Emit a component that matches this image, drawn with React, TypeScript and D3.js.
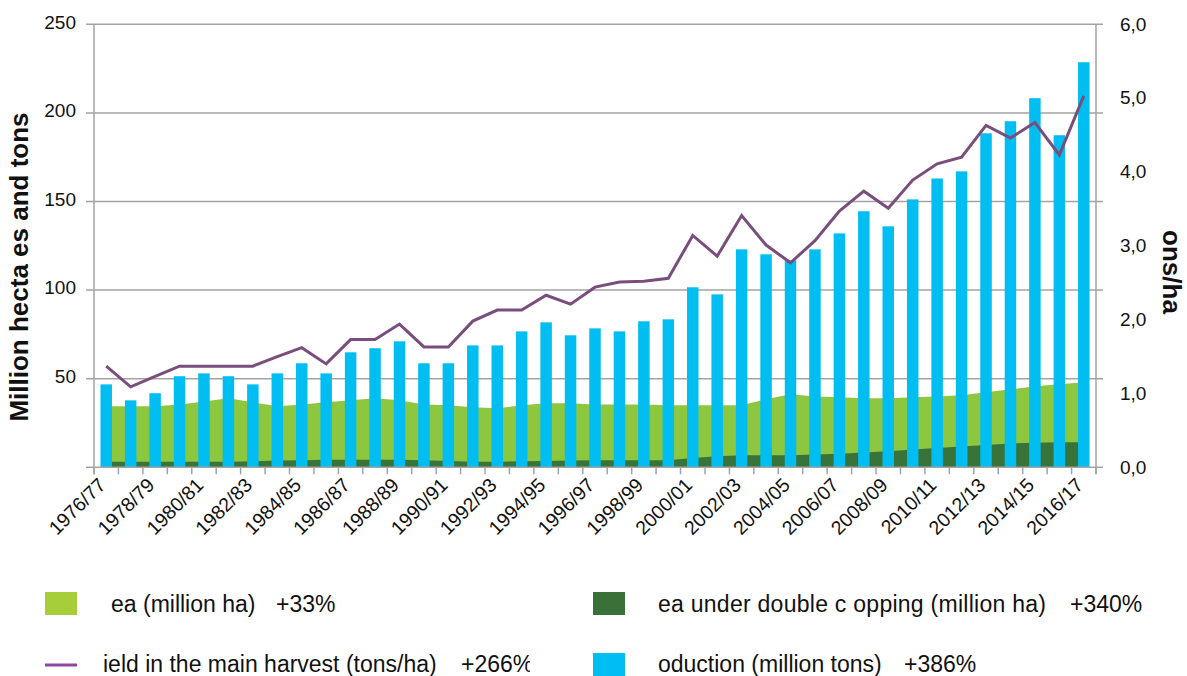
import React, { useEffect, useRef } from 'react';
import * as d3 from 'd3';

// crop years on the x axis
const seasons = [
  '1976/77', '1977/78', '1978/79', '1979/80', '1980/81', '1981/82', '1982/83', '1983/84',
  '1984/85', '1985/86', '1986/87', '1987/88', '1988/89', '1989/90', '1990/91', '1991/92',
  '1992/93', '1993/94', '1994/95', '1995/96', '1996/97', '1997/98', '1998/99', '1999/00',
  '2000/01', '2001/02', '2002/03', '2003/04', '2004/05', '2005/06', '2006/07', '2007/08',
  '2008/09', '2009/10', '2010/11', '2011/12', '2012/13', '2013/14', '2014/15', '2015/16',
  '2016/17',
];

// million ha
const area = [
  34.4, 34.4, 34.4, 35.5, 37.2, 38.9, 36.7, 34.4, 35.5, 36.7, 37.8, 38.9, 37.8, 35.5,
  35.0, 33.9, 33.3, 35.0, 36.1, 36.1, 35.5, 35.5, 35.5, 35.0, 35.0, 35.0, 35.0, 38.4,
  41.2, 40.0, 39.5, 38.9, 38.9, 39.5, 40.0, 40.6, 42.3, 44.0, 45.7, 46.8, 48.0,
];

// million ha under double cropping
const doubleCrop = [
  3.2, 3.2, 3.2, 3.2, 3.2, 3.2, 3.4, 3.8, 4.0, 4.2, 4.2, 4.2, 4.2, 4.0, 3.6, 3.2,
  3.2, 3.4, 3.6, 3.8, 4.0, 4.0, 4.0, 4.0, 5.3, 6.2, 6.8, 6.8, 6.8, 7.2, 7.7, 8.3,
  9.0, 10.0, 10.9, 11.7, 12.6, 13.4, 13.9, 14.1, 14.1,
];

// million tons
const production = [
  46.8, 37.8, 41.8, 51.4, 53.0, 51.4, 46.8, 53.0, 58.7, 53.0, 64.9, 67.2, 71.1, 58.7,
  58.7, 68.8, 68.8, 76.7, 81.8, 74.5, 78.4, 76.7, 82.4, 83.5, 101.6, 97.6, 123.0, 120.2,
  116.8, 123.0, 132.0, 144.5, 136.0, 151.2, 163.0, 167.0, 188.5, 195.3, 208.3, 187.4, 228.6,
];

// tons/ha, right axis
const yieldMain = [
  1.37, 1.09, 1.23, 1.37, 1.37, 1.37, 1.37, 1.50, 1.62, 1.40, 1.73, 1.73, 1.94, 1.63,
  1.63, 1.98, 2.13, 2.13, 2.33, 2.21, 2.44, 2.51, 2.52, 2.56, 3.14, 2.86, 3.41, 3.01,
  2.77, 3.07, 3.47, 3.74, 3.51, 3.89, 4.11, 4.20, 4.63, 4.46, 4.67, 4.23, 5.03,
];

const leftTicks = [50, 100, 150, 200, 250];
const rightTicks = [0, 1, 2, 3, 4, 5, 6];

const FONT = '"Liberation Sans", Arial, Helvetica, sans-serif';

export default function App() {
  const svgRef = useRef<SVGSVGElement>(null);

  useEffect(() => {
    const w = 1187;
    const h = 676;
    const svg = d3.select(svgRef.current).attr('width', w).attr('height', h);
    svg.selectAll('*').remove();

    const left = 94, right = 1096, top = 24.3, bottom = 467.3;

    const x = d3.scaleBand<string>()
      .domain(seasons)
      .range([left, right])
      .paddingInner(0.53)
      .paddingOuter(0.265);
    const step = x.step();
    const bw = x.bandwidth();
    const cx = (s: string) => (x(s) as number) + bw / 2;

    const yL = d3.scaleLinear().domain([0, 250]).range([bottom, top]);
    const yR = d3.scaleLinear().domain([0, 6]).range([bottom, top]);

    // areas (behind everything)
    const areaGen = d3.area<number>()
      .x((d, i) => cx(seasons[i]))
      .y0(yL(0))
      .y1(d => yL(d));
    svg.append('path').datum(area).attr('d', areaGen).attr('fill', '#8DC63F');
    svg.append('path').datum(doubleCrop).attr('d', areaGen).attr('fill', '#38733A');

    // gridlines
    const grid = svg.append('g');
    grid.selectAll('line')
      .data(leftTicks)
      .join('line')
      .attr('x1', left - 8)
      .attr('x2', right + 7)
      .attr('y1', d => yL(d))
      .attr('y2', d => yL(d))
      .attr('stroke', '#a3a3a3')
      .attr('stroke-width', 1.5);

    // production bars
    svg.append('g')
      .selectAll('rect')
      .data(production)
      .join('rect')
      .attr('x', (d, i) => x(seasons[i]) as number)
      .attr('width', bw)
      .attr('y', d => yL(d))
      .attr('height', d => yL(0) - yL(d))
      .attr('fill', '#00BEF2');

    // yield line
    const lineGen = d3.line<number>()
      .x((d, i) => cx(seasons[i]))
      .y(d => yR(d));
    svg.append('path')
      .datum(yieldMain)
      .attr('d', lineGen)
      .attr('fill', 'none')
      .attr('stroke', '#7A4E7C')
      .attr('stroke-width', 3)
      .attr('stroke-linejoin', 'miter');

    // axis lines
    const axisCol = '#a3a3a3';
    svg.append('line').attr('x1', left).attr('x2', left).attr('y1', top).attr('y2', bottom + 7)
      .attr('stroke', axisCol).attr('stroke-width', 1.5);
    svg.append('line').attr('x1', right).attr('x2', right).attr('y1', top).attr('y2', bottom + 7)
      .attr('stroke', axisCol).attr('stroke-width', 1.5);
    svg.append('line').attr('x1', left - 8).attr('x2', right + 7).attr('y1', bottom).attr('y2', bottom)
      .attr('stroke', axisCol).attr('stroke-width', 1.5);

    // category boundary ticks
    const bounds = seasons.map(s => (x(s) as number) - (step - bw) / 2).concat([right]);
    svg.append('g')
      .selectAll('line')
      .data(bounds)
      .join('line')
      .attr('x1', d => d)
      .attr('x2', d => d)
      .attr('y1', bottom)
      .attr('y2', bottom + 7)
      .attr('stroke', axisCol)
      .attr('stroke-width', 1.5);

    // left axis labels
    const gl = svg.append('g')
      .attr('transform', `translate(${left},0)`)
      .call(d3.axisLeft(yL).tickValues(leftTicks).tickSize(0).tickPadding(18));
    gl.select('.domain').remove();
    gl.selectAll('text').attr('font-family', FONT).attr('font-size', 19).attr('fill', '#111')
      .attr('dy', '0.2em');

    // right axis labels
    const gr = svg.append('g')
      .attr('transform', `translate(${right},0)`)
      .call(d3.axisRight(yR).tickValues(rightTicks).tickSize(0).tickPadding(24)
        .tickFormat(d => (d as number).toFixed(1).replace('.', ',')));
    gr.select('.domain').remove();
    gr.selectAll('text').attr('font-family', FONT).attr('font-size', 19).attr('fill', '#111')
      .attr('dy', '0.3em');

    // bottom axis labels, every other season
    const gb = svg.append('g')
      .attr('transform', `translate(0,${bottom})`)
      .call(d3.axisBottom(x).tickValues(seasons.filter((s, i) => i % 2 === 0)).tickSize(0));
    gb.select('.domain').remove();
    gb.selectAll('text')
      .attr('font-family', FONT)
      .attr('font-size', 19.5)
      .attr('fill', '#111')
      .attr('x', -13)
      .attr('y', 7)
      .attr('dy', '0.35em')
      .attr('transform', 'rotate(-45)')
      .style('text-anchor', 'end');

    // axis titles
    svg.append('text')
      .attr('transform', 'translate(28,267) rotate(-90)')
      .attr('text-anchor', 'middle')
      .attr('font-family', FONT)
      .attr('font-weight', 'bold')
      .attr('font-size', 26)
      .attr('fill', '#111')
      .text('Million hecta es and tons');
    svg.append('text')
      .attr('transform', 'translate(1163,272) rotate(90)')
      .attr('text-anchor', 'middle')
      .attr('font-family', FONT)
      .attr('font-weight', 'bold')
      .attr('font-size', 26)
      .attr('fill', '#111')
      .text('ons/ha');

    // legend
    const lg = svg.append('g').attr('font-family', FONT).attr('font-size', 23).attr('fill', '#111');
    lg.append('rect').attr('x', 45).attr('y', 592).attr('width', 32).attr('height', 23).attr('fill', '#A6CE39');
    lg.append('text').attr('x', 111).attr('y', 612).text('ea (million ha)');
    lg.append('text').attr('x', 276).attr('y', 612).text('+33%');

    lg.append('line').attr('x1', 45).attr('x2', 77).attr('y1', 665).attr('y2', 665)
      .attr('stroke', '#8E47A0').attr('stroke-width', 3);
    svg.append('clipPath').attr('id', 'legclip')
      .append('rect').attr('x', 0).attr('y', 620).attr('width', 530).attr('height', 56);
    lg.append('text').attr('x', 103).attr('y', 672).text('ield in the main harvest (tons/ha)');
    lg.append('text').attr('x', 461).attr('y', 672).attr('clip-path', 'url(#legclip)').text('+266%');

    lg.append('rect').attr('x', 593).attr('y', 592).attr('width', 32).attr('height', 23).attr('fill', '#3A7139');
    lg.append('text').attr('x', 658).attr('y', 612).attr('textLength', 388).attr('lengthAdjust', 'spacing')
      .text('ea under double c opping (million ha)');
    lg.append('text').attr('x', 1070).attr('y', 612).text('+340%');

    lg.append('rect').attr('x', 593).attr('y', 653).attr('width', 32).attr('height', 23).attr('fill', '#00BEF2');
    lg.append('text').attr('x', 658).attr('y', 672).text('oduction (million tons)');
    lg.append('text').attr('x', 904).attr('y', 672).text('+386%');
  }, []);

  return (
    <svg
      ref={svgRef}
      style={{ position: 'absolute', left: 0, top: 0, display: 'block', background: '#fff' }}
    ></svg>
  );
}
